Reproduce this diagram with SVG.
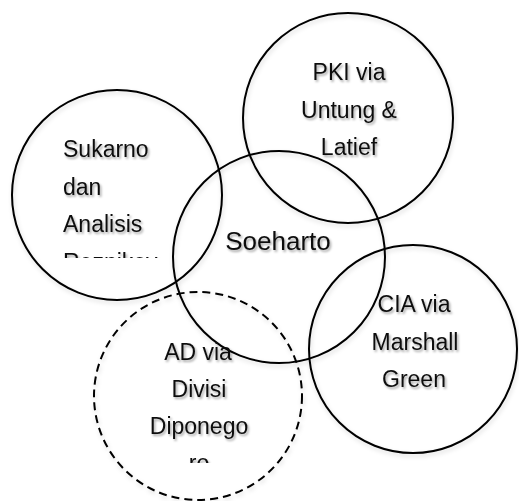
<svg xmlns="http://www.w3.org/2000/svg" width="519" height="501" viewBox="0 0 519 501">
  <style>
    .c { fill: none; stroke: #000; stroke-width: 2; filter: url(#cs); }
    .d { stroke-dasharray: 8 5; }
    .t { font-family: "Liberation Sans", Arial, sans-serif; font-size: 23px; fill: #111; filter: url(#ts); }
    .m { text-anchor: middle; }
  </style>
  <defs>
    <filter id="ts" x="-10%" y="-30%" width="130%" height="180%">
      <feDropShadow dx="1.5" dy="2" stdDeviation="1.2" flood-color="#000" flood-opacity="0.35"/>
    </filter>
    <filter id="cs" x="-10%" y="-10%" width="130%" height="130%">
      <feDropShadow dx="1" dy="2.5" stdDeviation="2" flood-color="#000" flood-opacity="0.15"/>
    </filter>
    <clipPath id="clipSuk"><rect x="40" y="120" width="150" height="138"/></clipPath>
    <clipPath id="clipAD"><rect x="130" y="320" width="140" height="143"/></clipPath>
  </defs>
  <g id="sukarno">
    <circle class="c" cx="117" cy="195" r="105"/>
    <g clip-path="url(#clipSuk)">
      <text class="t" x="63" y="157">Sukarno</text>
      <text class="t" x="63" y="195">dan</text>
      <text class="t" x="63" y="232">Analisis</text>
      <text class="t" x="63" y="270">Reznikov</text>
    </g>
  </g>
  <g id="pki">
    <circle class="c" cx="348" cy="118" r="105"/>
    <text class="t m" x="349" y="80">PKI via</text>
    <text class="t m" x="349" y="118">Untung &amp;</text>
    <text class="t m" x="349" y="155">Latief</text>
  </g>
  <g id="soeharto">
    <circle class="c" cx="279" cy="257" r="106"/>
    <text class="t m" x="278" y="250" style="font-size:26px">Soeharto</text>
  </g>
  <g id="cia">
    <circle class="c" cx="413" cy="349" r="104"/>
    <text class="t m" x="414" y="312">CIA via</text>
    <text class="t m" x="415" y="350">Marshall</text>
    <text class="t m" x="414" y="387">Green</text>
  </g>
  <g id="ad">
    <circle class="c d" cx="198" cy="396" r="104"/>
    <g clip-path="url(#clipAD)">
      <text class="t m" x="198" y="360">AD via</text>
      <text class="t m" x="199" y="397">Divisi</text>
      <text class="t m" x="199" y="434">Diponego</text>
      <text class="t m" x="199" y="471">ro</text>
    </g>
  </g>
  <g id="connectors"/>
</svg>
